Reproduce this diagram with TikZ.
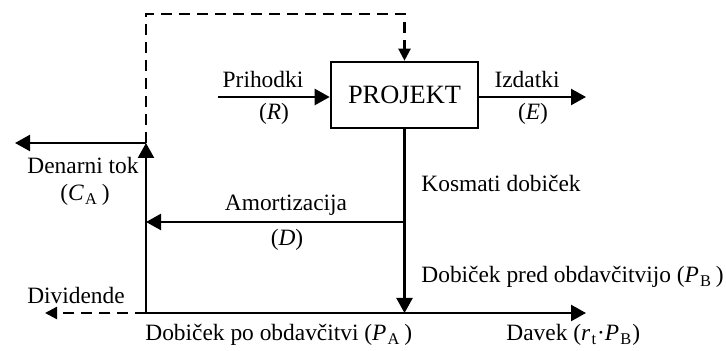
\documentclass[tikz,border=0pt]{standalone}
\usepackage{fontspec}
\setmainfont{Liberation Serif}
\usetikzlibrary{arrows.meta, calc}
\newcommand{\sub}[1]{\kern0.6pt\textsubscript{#1}}
\tikzset{
	box/.style={rectangle, draw, line width=1.3pt, minimum width=73.5pt, minimum height=33pt, inner sep=0pt, font=\fontsize{13.2}{15}\selectfont},
	lbl/.style={inner sep=0pt, font=\fontsize{11.7}{14}\selectfont},
	flow/.style={-{Triangle[length=7.5pt, width=8pt]}, line width=1.15pt},
	dflow/.style={-{Triangle[length=6pt, width=6pt]}, line width=1.15pt, dash pattern=on 5.5pt off 3.5pt},
}
\begin{document}
\begin{tikzpicture}[x=0.5pt, y=-0.5pt]
		\useasboundingbox (0,0) rectangle (726,351);
		\node[box] (proj) at (404.5,95) {PROJEKT};
		% junction points
		\coordinate (inR) at (218,97);
		\coordinate (outE) at (586,97);
		\coordinate (ca) at (146,143);
		\coordinate (caL) at (15,143);
		\coordinate (corner) at (146,14);
		\coordinate (am) at (404.5,222);
		\coordinate (pb) at (404.5,313);
		\coordinate (pa) at (146,313);
		\coordinate (tax) at (586,313);
		\coordinate (div) at (45,313);
		\draw[flow] (inR) -- (inR -| proj.west);
		\draw[flow] (proj.east |- outE) -- (outE);
		\draw[flow] (proj.south) -- (pb);
		\draw[flow] (am) -- (am -| pa);
		\draw[flow] (pa) -- (ca);
		\draw[flow] (ca) -- (caL);
		\draw[flow] (pa) -- (tax);
		\draw[dflow] (pa) -- (div);
		\draw[dflow] (ca) -- (corner) -| (proj.north);
		% labels
		\node[lbl] (lR) at (263,80) {Prihodki};
		\node[lbl] (lRs) at (274,114) {(\textit{R})};
		\node[lbl] (lE) at (527,80) {Izdatki};
		\node[lbl] (lEs) at (533,114) {(\textit{E})};
		\node[lbl] (lC) at (83,166) {Denarni tok};
		\node[lbl] (lCs) at (85,195) {(\textit{C}\sub{A}\,)};
		\node[lbl] (lD) at (286,205) {Amortizacija};
		\node[lbl] (lDs) at (287,240) {(\textit{D})};
		\node[lbl] (lDiv) at (76,295) {Dividende};
		\node[lbl, anchor=west] (lK) at (421,183) {Kosmati dobiček};
		\node[lbl, anchor=west] (lPB) at (421,277) {Dobiček pred obdavčitvijo (\textit{P}\sub{B}\,)};
		\node[lbl, anchor=west] (lPA) at (145,335) {Dobiček po obdavčitvi (\textit{P}\sub{A}\,)};
		\node[lbl, anchor=west] (lT) at (506,335) {Davek (\textit{r}\sub{t}·\textit{P}\sub{B})};
	\end{tikzpicture}
\end{document}
